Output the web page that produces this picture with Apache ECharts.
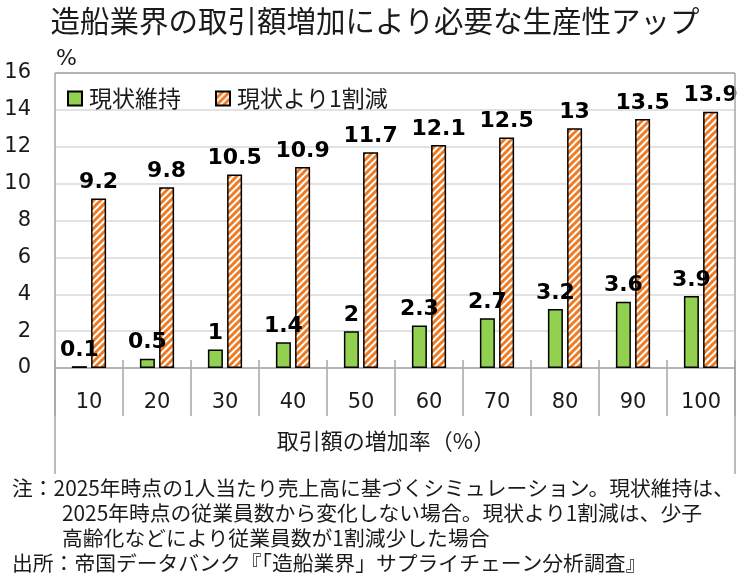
<!DOCTYPE html>
<html>
<head>
<meta charset="utf-8">
<script src="https://cdn.jsdelivr.net/npm/echarts@6/dist/echarts.min.js"></script>
<style>html,body{margin:0;padding:0;background:#fff}#c{width:750px;height:580px}</style>
</head>
<body>
<div id="c"></div>
<script>
const categories = ['10','20','30','40','50','60','70','80','90','100'];
const seriesNames = ['現状維持','現状より1割減'];
const keepValues = [0.1,0.5,1,1.4,2,2.3,2.7,3.2,3.6,3.9];
const reduceValues = [9.2,9.8,10.5,10.9,11.7,12.1,12.5,13,13.5,13.9];
const yTicks = [0,2,4,6,8,10,12,14,16];
const titleText = '造船業界の取引額増加により必要な生産性アップ';
const axisNameText = '取引額の増加率（%）';
const noteLines = [
  '注：2025年時点の1人当たり売上高に基づくシミュレーション。現状維持は、',
  '2025年時点の従業員数から変化しない場合。現状より1割減は、少子',
  '高齢化などにより従業員数が1割減少した場合',
  '出所：帝国データバンク『「造船業界」サプライチェーン分析調査』'
];

const JP = '"Noto Sans CJK JP", sans-serif';
const NUM = '"DejaVu Sans", "Noto Sans CJK JP", sans-serif';

// stripe pattern
const P = 7;
const pc = document.createElement('canvas');
pc.width = P; pc.height = P;
const g = pc.getContext('2d');
g.fillStyle = '#ffffff'; g.fillRect(0,0,P,P);
g.strokeStyle = '#F07A22'; g.lineWidth = 3;
for (let k = -2; k <= 2; k++) {
  g.beginPath(); g.moveTo(k*P - 1, P + 1); g.lineTo(k*P + P + 1, -1); g.stroke();
}

const chart = echarts.init(document.getElementById('c'));
const gridTop = 73, gridBottomY = 368;
chart.setOption({
  animation: false,
  title: {
    text: titleText, left: 'center', top: 1,
    textStyle: {fontFamily: JP, fontSize: 29.5, fontWeight: 'normal', color: '#1a1a1a'}
  },
  legend: {
    left: 62, top: 82, itemWidth: 14, itemHeight: 14, itemGap: 34,
    icon: 'rect',
    textStyle: {fontFamily: JP, fontSize: 23, color: '#1a1a1a', padding: [0,0,0,2]},
    data: seriesNames
  },
  grid: {left: 55, right: 15, top: gridTop, bottom: 580 - gridBottomY},
  xAxis: [{
    type: 'category', data: categories, position: 'bottom',
    axisLine: {lineStyle: {color: '#a6a6a6', width: 1.5}},
    axisTick: {show: true, inside: false, length: 48, lineStyle: {color: '#a6a6a6', width: 1.5}},
    axisLabel: {fontFamily: NUM, fontSize: 21, color: '#1a1a1a', margin: 24}
  },{
    type: 'category', data: categories, position: 'bottom',
    axisLine: {show: false},
    axisTick: {show: true, inside: true, length: 8, lineStyle: {color: '#a6a6a6', width: 1.5}},
    axisLabel: {show: false}
  }],
  yAxis: {
    type: 'value', min: 0, max: 16, interval: 2,
    axisLine: {show: false}, axisTick: {show: false},
    splitLine: {lineStyle: {color: '#d9d9d9', width: 1.5}},
    axisLabel: {fontFamily: NUM, fontSize: 21, color: '#1a1a1a', margin: 24}
  },
  series: [{
    name: seriesNames[0], type: 'bar', data: keepValues,
    barWidth: 15, barGap: '28%',
    itemStyle: {color: '#92D050', borderColor: '#000', borderWidth: 1.5},
    label: {show: true, position: 'top', distance: 5, fontFamily: NUM, fontWeight: 'bold', fontSize: 22, color: '#000'}
  },{
    name: seriesNames[1], type: 'bar', data: reduceValues,
    barWidth: 15,
    itemStyle: {color: {image: pc, repeat: 'repeat'}, borderColor: '#000', borderWidth: 1.5},
    label: {show: true, position: 'top', distance: 5, fontFamily: NUM, fontWeight: 'bold', fontSize: 22, color: '#000'}
  }],
  graphic: [
    {type: 'line', shape: {x1: 55, y1: gridTop, x2: 735, y2: gridTop}, style: {stroke: '#a6a6a6', lineWidth: 1.5}, z: 10},
    {type: 'line', shape: {x1: 55, y1: gridTop, x2: 55, y2: 476}, style: {stroke: '#a6a6a6', lineWidth: 1.5}, z: 10},
    {type: 'line', shape: {x1: 735, y1: gridTop, x2: 735, y2: 476}, style: {stroke: '#a6a6a6', lineWidth: 1.5}, z: 10},
    {type: 'text', left: 56, top: 48, style: {text: '%', fontFamily: NUM, fontSize: 22, fill: '#1a1a1a'}},
    {type: 'text', x: 386, y: 441, style: {text: axisNameText, fontFamily: JP, fontSize: 22, fill: '#1a1a1a', align: 'center', verticalAlign: 'middle'}},
    {type: 'rect', shape: {x: 0, y: 474, width: 750, height: 106}, style: {fill: '#fff'}, z: 20},
    {type: 'text', x: 12, y: 488, z: 21, style: {text: noteLines[0], fontFamily: JP, fontSize: 20.8, fill: '#1a1a1a', verticalAlign: 'middle'}},
    {type: 'text', x: 62, y: 513, z: 21, style: {text: noteLines[1], fontFamily: JP, fontSize: 20.8, fill: '#1a1a1a', verticalAlign: 'middle'}},
    {type: 'text', x: 62, y: 538, z: 21, style: {text: noteLines[2], fontFamily: JP, fontSize: 20.8, fill: '#1a1a1a', verticalAlign: 'middle'}},
    {type: 'text', x: 12, y: 563, z: 21, style: {text: noteLines[3], fontFamily: JP, fontSize: 20.8, fill: '#1a1a1a', verticalAlign: 'middle'}}
  ]
});
</script>
</body>
</html>
